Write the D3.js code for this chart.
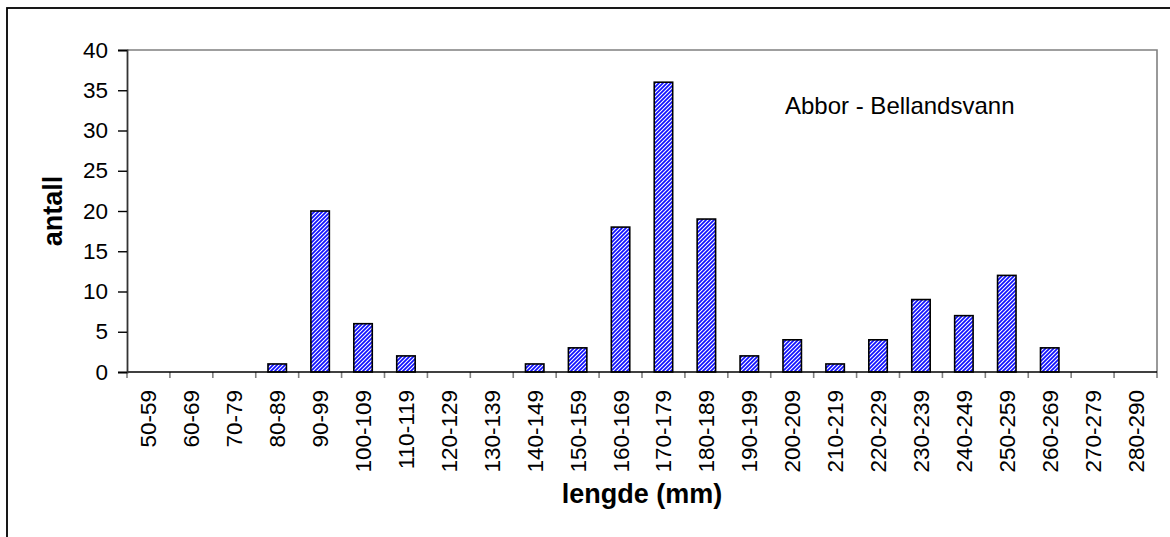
<!DOCTYPE html>
<html>
<head>
<meta charset="utf-8">
<script src="https://cdn.jsdelivr.net/npm/d3@7"></script>
<style>
  html, body { margin: 0; padding: 0; background: #fff; }
  svg { display: block; font-family: Arial, "Liberation Sans", sans-serif; }
</style>
</head>
<body>
<svg id="chart" width="1170" height="537"></svg>
<script>
const categories = ["50-59","60-69","70-79","80-89","90-99","100-109","110-119","120-129","130-139","140-149","150-159","160-169","170-179","180-189","190-199","200-209","210-219","220-229","230-239","240-249","250-259","260-269","270-279","280-290"];
const counts = [0,0,0,1,20,6,2,0,0,1,3,18,36,19,2,4,1,4,9,7,12,3,0,0];
const yTicks = [0,5,10,15,20,25,30,35,40];
const chartTitle = "Abbor - Bellandsvann";
const xTitle = "lengde (mm)";
const yTitle = "antall";

const svg = d3.select("#chart");
const plot = {left: 127, right: 1157, top: 50, bottom: 372};

// outer chart border (cut off at right/bottom)
svg.append("rect").attr("x", 7).attr("y", 8).attr("width", 1200).attr("height", 600)
  .attr("fill", "none").attr("stroke", "#000").attr("stroke-width", 1.8);

const defs = svg.append("defs");
const pat = defs.append("pattern").attr("id", "hatch").attr("patternUnits", "userSpaceOnUse")
  .attr("width", 4).attr("height", 4);
pat.append("rect").attr("width", 4).attr("height", 4).attr("fill", "#1010ff");
pat.append("path").attr("d", "M-1,1 l2,-2 M0,4 l4,-4 M3,5 l2,-2")
  .attr("stroke", "#ffffff").attr("stroke-width", 1.1);

const x = d3.scaleBand().domain(categories).range([plot.left, plot.right]).paddingInner(0.57).paddingOuter(0.285);
const xBounds = d3.scaleLinear().domain([0, categories.length]).range([plot.left, plot.right]);
const y = d3.scaleLinear().domain([0, 40]).range([plot.bottom, plot.top]);

// plot area border: top and right gray
svg.append("path")
  .attr("d", `M${plot.left},${plot.top}H${plot.right}V${plot.bottom}`)
  .attr("fill", "none").attr("stroke", "#808080").attr("stroke-width", 1.6);

// bars
svg.append("g").selectAll("rect").data(categories).join("rect")
  .attr("x", d => x(d))
  .attr("width", x.bandwidth())
  .attr("y", (d, i) => y(counts[i]))
  .attr("height", (d, i) => y(0) - y(counts[i]))
  .attr("fill", "url(#hatch)")
  .attr("stroke", "#000").attr("stroke-width", 1.6)
  .attr("visibility", (d, i) => counts[i] > 0 ? "visible" : "hidden");

// x ticks at category boundaries
svg.append("g").selectAll("line").data(d3.range(categories.length + 1)).join("line")
  .attr("x1", d => xBounds(d)).attr("x2", d => xBounds(d))
  .attr("y1", plot.bottom).attr("y2", plot.bottom + 6)
  .attr("stroke", "#808080").attr("stroke-width", 1.6);

// baseline
svg.append("line").attr("x1", plot.left).attr("x2", plot.right)
  .attr("y1", plot.bottom).attr("y2", plot.bottom)
  .attr("stroke", "#000").attr("stroke-width", 1.6);

// x tick labels
svg.append("g").selectAll("text").data(categories).join("text")
  .attr("transform", d => `translate(${x(d) + x.bandwidth()/2 + 8},390) rotate(-90)`)
  .attr("text-anchor", "end")
  .attr("font-size", 22.5)
  .attr("fill", "#000")
  .text(d => d);

// y axis
const yAxis = d3.axisLeft(y).tickValues(yTicks).tickSize(9).tickPadding(10);
const yg = svg.append("g").attr("transform", `translate(${plot.left},0)`).call(yAxis);
yg.select(".domain").attr("stroke", "#333").attr("stroke-width", 1.8);
yg.selectAll(".tick line").attr("stroke", "#000").attr("stroke-width", 1.4);
yg.selectAll(".tick text").attr("font-size", 22.5).attr("fill", "#000")
  .attr("font-family", "Arial, 'Liberation Sans', sans-serif");

// titles
svg.append("text").attr("x", 785).attr("y", 114).attr("font-size", 24).attr("fill", "#000")
  .text(chartTitle);
svg.append("text").attr("x", 642).attr("y", 503).attr("text-anchor", "middle")
  .attr("font-size", 27).attr("font-weight", "bold").attr("fill", "#000").text(xTitle);
svg.append("text").attr("transform", `translate(62,211) rotate(-90)`).attr("text-anchor", "middle")
  .attr("font-size", 27).attr("font-weight", "bold").attr("fill", "#000").text(yTitle);
</script>
</body>
</html>
